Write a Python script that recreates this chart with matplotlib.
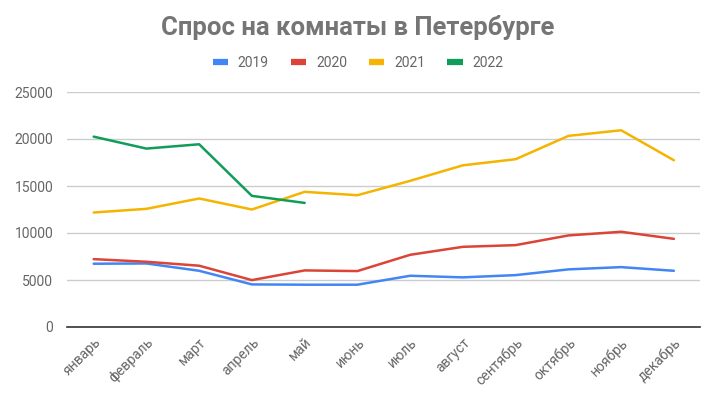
import matplotlib.pyplot as plt
from matplotlib.lines import Line2D

plt.rcParams['font.family'] = ['Roboto', 'DejaVu Sans']

months = ['январь', 'февраль', 'март', 'апрель', 'май', 'июнь',
          'июль', 'август', 'сентябрь', 'октябрь', 'ноябрь', 'декабрь']

y2019 = [6730, 6760, 5980, 4530, 4500, 4500, 5450, 5280, 5520, 6130, 6370, 5980]
y2020 = [7220, 6940, 6520, 4990, 6020, 5950, 7680, 8530, 8710, 9740, 10130, 9380]
y2021 = [12180, 12570, 13670, 12500, 14380, 14020, 15550, 17200, 17850, 20330, 20930, 17740]
y2022 = [20250, 18980, 19440, 13950, 13200]

series = [('2019', y2019, '#4285F4'), ('2020', y2020, '#DB4437'),
          ('2021', y2021, '#F4B400'), ('2022', y2022, '#0F9D58')]

text_col = '#666666'

fig = plt.figure(figsize=(7.16, 4.0), dpi=100)
ax = fig.add_axes([0.094, 0.1825, 0.884, 0.5875])

for name, vals, col in series:
    ax.plot(range(len(vals)), vals, color=col, lw=1.8, label=name, solid_capstyle='round')

ax.set_xlim(-0.5, 11.5)
ax.set_ylim(0, 25000)
ax.set_yticks(range(0, 25001, 5000))
ax.set_xticks(range(12))
ax.set_xticklabels(months, rotation=45, ha='right', rotation_mode='anchor')
ax.tick_params(axis='both', length=0, colors=text_col, labelsize=10)
ax.tick_params(axis='x', pad=6)
ax.tick_params(axis='y', pad=10)
ax.grid(axis='y', color='#cccccc', lw=1)
ax.set_axisbelow(True)
for s in ['top', 'right', 'left']:
    ax.spines[s].set_visible(False)
ax.spines['bottom'].set_color('#333333')
ax.spines['bottom'].set_linewidth(1.2)

fig.text(0.5, 0.932, 'Спрос на комнаты в Петербурге', ha='center', va='center',
         fontsize=18.5, fontweight='bold', color='#757575')

handles = [Line2D([0], [0], color=col, lw=4.5, solid_capstyle='butt') for _, _, col in series]
fig.legend(handles, [s[0] for s in series], loc='center', bbox_to_anchor=(0.5, 0.843),
           ncol=4, frameon=False, fontsize=10, labelcolor=text_col,
           handlelength=1.1, handletextpad=0.7, columnspacing=1.6)

fig.savefig('out.png', dpi=100, facecolor='white')
